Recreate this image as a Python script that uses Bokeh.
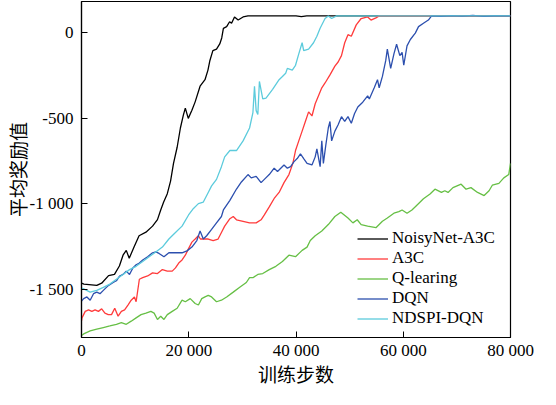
from bokeh.plotting import figure
from bokeh.models import Legend, LegendItem, FixedTicker, Range1d
from bokeh.embed import file_html
from bokeh.resources import INLINE

# ---- data ----
noisy_x = [0, 459, 2844, 3762, 5046, 6147, 7065, 7744, 8349, 8900, 9817, 10735, 12019, 13249, 14166,
           14772, 15322, 16001, 16607, 17157, 17836, 18442, 18992, 19359, 19910, 20589, 21194, 22112,
           23029, 23580, 23947, 24497, 25176, 25782, 26149, 26461, 27066, 27617, 27984, 28534, 29213,
           30131, 31048, 40000, 41000, 42000, 60000, 80000]
noisy_y = [-1461, -1466, -1474, -1461, -1417, -1410, -1361, -1298, -1270, -1316, -1249, -1185, -1164,
           -1129, -1091, -1035, -989, -940, -867, -764, -670, -558, -483, -442, -502, -455, -406, -315,
           -277, -221, -165, -108, -99, -69, -34, 22, 32, 60, 51, 88, 70, 88, 94, 94, 90, 94, 94, 94]

a3c_x = [0, 92, 697, 1321, 1927, 2532, 3156, 3762, 4367, 4991, 5597, 6202, 6826, 7432, 8037, 8661,
         9267, 9872, 10184, 10790, 11414, 12331, 13249, 14166, 15084, 16001, 16919, 17524, 18130,
         18754, 19359, 19965, 20589, 21194, 21800, 22167, 22717, 23635, 24552, 25470, 26094, 26699,
         27672, 28296, 28901, 30131, 31342, 32571, 33489, 34094, 35012, 35929, 36847, 37764, 38682,
         39416, 39911, 40517, 41141, 41747, 42352, 42976, 43581, 44811, 45417, 46334, 47252, 47857,
         48481, 49086, 49692, 50316, 51233, 52151, 53362, 53986, 54903, 55509, 80000]
a3c_y = [-1681, -1663, -1625, -1616, -1625, -1616, -1625, -1610, -1635, -1644, -1644, -1607, -1653,
         -1625, -1616, -1588, -1560, -1541, -1569, -1438, -1429, -1419, -1401, -1405, -1382, -1391,
         -1391, -1372, -1344, -1326, -1298, -1260, -1222, -1204, -1185, -1204, -1204, -1204, -1213,
         -1204, -1166, -1129, -1086, -1073, -1092, -1101, -1110, -1110, -1092, -1064, -1017, -968,
         -933, -876, -829, -764, -689, -633, -576, -520, -464, -488, -417, -324, -296, -249, -198,
         -174, -137, -62, -15, -24, 42, 79, 88, 70, 83, 94, 94]

q_x = [0, 404, 1615, 2844, 4074, 5285, 6514, 7432, 8349, 9267, 10184, 11102, 12019, 12937, 13542,
       14166, 14772, 15377, 16001, 16919, 17836, 18754, 19359, 20277, 21194, 21800, 22424, 23029,
       23635, 24259, 25176, 26094, 27066, 28296, 29507, 30736, 31342, 31966, 32883, 33801, 35012,
       36241, 37471, 38682, 39911, 41141, 42059, 42664, 43581, 44811, 46022, 47252, 48353, 49692,
       50610, 51417, 52151, 53362, 54903, 56114, 57032, 58262, 59179, 59786, 60702, 61620, 62537,
       63766, 64996, 65913, 67124, 67749, 68354, 69272, 70795, 71712, 72630, 73855, 75084, 76001,
       76607, 77836, 78754, 79671, 80000]
q_y = [-1766, -1756, -1738, -1728, -1719, -1710, -1700, -1691, -1700, -1682, -1663, -1644, -1635,
       -1625, -1635, -1672, -1653, -1672, -1644, -1625, -1607, -1560, -1569, -1551, -1579, -1588,
       -1551, -1541, -1532, -1541, -1569, -1560, -1541, -1513, -1485, -1457, -1429, -1429, -1410,
       -1405, -1382, -1363, -1335, -1298, -1307, -1270, -1251, -1213, -1185, -1157, -1120, -1073,
       -1048, -1082, -1110, -1092, -1120, -1129, -1138, -1101, -1082, -1054, -1045, -1035, -1054,
       -1035, -1007, -970, -942, -914, -933, -923, -933, -905, -885, -914, -905, -933, -951, -923,
       -891, -880, -848, -829, -764]

dqn_x = [0, 404, 1009, 1615, 2239, 2844, 3450, 4074, 4991, 5909, 6514, 7120, 7744, 8349, 8955, 9579,
         10184, 10790, 11414, 12331, 13249, 13854, 14460, 15377, 16295, 17524, 18754, 19671, 20589,
         21506, 22112, 22717, 23341, 24259, 25176, 26094, 26461, 27672, 28901, 29819, 31048, 31654,
         32571, 33489, 34094, 35012, 35929, 36553, 37158, 37764, 38388, 38994, 39599, 40223, 40829,
         41435, 42059, 42976, 43581, 43894, 44499, 44811, 45105, 45545, 46022, 46334, 46646, 47252,
         47857, 48481, 49086, 49692, 50316, 50921, 51527, 52444, 53362, 53674, 54591, 55197, 55509,
         56114, 56739, 57032, 57656, 58262, 58758, 59364, 59786, 60096, 60702, 61326, 62243, 62849,
         63766, 64684, 65289, 67000, 69000, 71000, 73000, 75000, 77000, 79000, 80000]
dqn_y = [-1565, -1551, -1541, -1560, -1522, -1513, -1522, -1503, -1475, -1457, -1447, -1419, -1410,
         -1391, -1410, -1372, -1354, -1344, -1326, -1307, -1284, -1279, -1288, -1307, -1284, -1284,
         -1284, -1273, -1251, -1213, -1157, -1204, -1185, -1148, -1110, -1073, -1035, -979, -913,
         -872, -829, -848, -839, -876, -857, -829, -792, -811, -792, -773, -792, -783, -755, -736,
         -708, -736, -764, -773, -726, -680, -783, -633, -764, -661, -558, -520, -633, -576, -539,
         -492, -520, -492, -530, -474, -436, -408, -371, -389, -324, -277, -324, -258, -165, -99,
         -211, -127, -71, -137, -118, -193, -80, -43, -6, 32, 51, 70, 94, 92, 96, 93, 97, 92, 95,
         94, 95]

ndspi_x = [0, 404, 1615, 2844, 4074, 5285, 6514, 7744, 8955, 10184, 11414, 12625, 13854, 15084,
           16295, 17524, 18754, 19965, 20882, 21800, 22717, 23635, 24259, 25176, 26094, 26699,
           27672, 28901, 30131, 31342, 31966, 32260, 32571, 32883, 33177, 33801, 34406, 35636,
           36847, 37471, 38076, 38388, 39306, 39911, 40517, 41141, 41435, 42352, 43270, 43894,
           44499, 45417, 46022, 46646, 47564, 80000]
ndspi_y = [-1490, -1494, -1513, -1503, -1485, -1466, -1438, -1410, -1382, -1363, -1335, -1307,
           -1279, -1251, -1204, -1166, -1129, -1064, -1026, -998, -989, -933, -895, -857, -783,
           -726, -689, -689, -633, -558, -468, -316, -457, -479, -287, -389, -384, -333, -277,
           -258, -239, -211, -221, -193, -127, -62, -108, -99, -62, -24, 22, 79, 94, 79, 94, 94]

series_names = ["NoisyNet-A3C", "A3C", "Q-learing", "DQN", "NDSPI-DQN"]
series_colors = ["#000000", "#ff3b3b", "#66bf45", "#2c4fae", "#5ccbdc"]

x_ticks = [0, 20000, 40000, 60000, 80000]
x_tick_labels = ["0", "20 000", "40 000", "60 000", "80 000"]
y_ticks = [0, -500, -1000, -1500]
y_tick_labels = ["0", "-500", "-1 000", "-1 500"]

p = figure(width=540, height=389, output_backend="svg", toolbar_location=None,
           x_range=Range1d(0, 80000), y_range=Range1d(-1777, 178),
           min_border_left=73, min_border_right=30, min_border_top=1, min_border_bottom=42)
p.grid.visible = False
p.outline_line_color = "black"
p.outline_line_width = 1.2
p.background_fill_color = "white"

serif = "Liberation Serif"
for ax in (p.xaxis[0], p.yaxis[0]):
    ax.axis_line_color = "black"
    ax.axis_line_width = 1.2
    ax.major_tick_in = 6
    ax.major_tick_out = 0
    ax.minor_tick_line_color = None
    ax.major_label_text_font = serif
    ax.major_label_text_font_size = "17px"
    ax.major_label_text_color = "black"
    ax.axis_label_text_font = "Noto Sans CJK SC"
    ax.axis_label_text_font_size = "19px"
    ax.axis_label_text_font_style = "normal"
    ax.axis_label_text_color = "black"

p.xaxis.ticker = FixedTicker(ticks=x_ticks)
p.xaxis.major_label_overrides = dict(zip(x_ticks, x_tick_labels))
p.yaxis.ticker = FixedTicker(ticks=y_ticks)
p.yaxis.major_label_overrides = dict(zip(y_ticks, y_tick_labels))
p.xaxis.axis_label = "训练步数"
p.yaxis.axis_label = "平均奖励值"
p.xaxis.major_label_standoff = 3
p.yaxis.major_label_standoff = 8
p.xaxis.axis_label_standoff = -3
p.yaxis.axis_label_standoff = -4

data = [(noisy_x, noisy_y), (a3c_x, a3c_y), (q_x, q_y), (dqn_x, dqn_y), (ndspi_x, ndspi_y)]
renderers = []
for (xs, ys), c in zip(data, series_colors):
    r = p.line(xs, ys, line_color=c, line_width=1.3)
    renderers.append(r)

items = [LegendItem(label=n, renderers=[r]) for n, r in zip(series_names, renderers)]
legend = Legend(items=items, location=(276, 9), border_line_color=None,
                background_fill_alpha=0, padding=0, margin=0, spacing=-1,
                glyph_width=31, glyph_height=15, label_height=15, label_standoff=4,
                label_text_font=serif, label_text_font_size="17px", label_text_color="black")
p.add_layout(legend)

open("out.html", "w").write(file_html(p, INLINE))
